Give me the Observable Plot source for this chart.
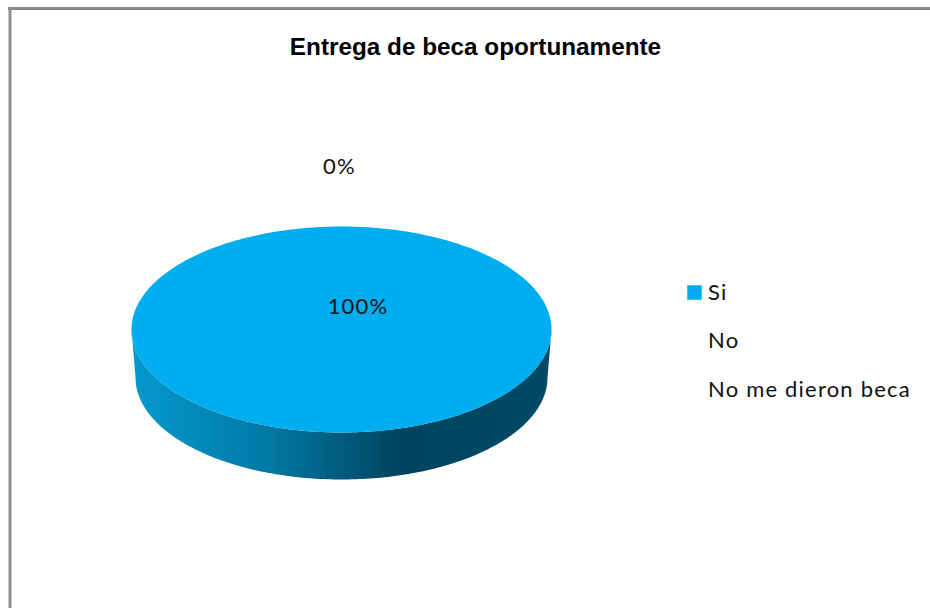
<!DOCTYPE html>
<html lang="es">
<head>
<meta charset="utf-8">
<title>Entrega de beca oportunamente</title>
<script src="https://cdn.jsdelivr.net/npm/d3@7"></script>
<script src="https://cdn.jsdelivr.net/npm/@observablehq/plot@0.6"></script>
<style>
  html, body { margin: 0; padding: 0; background: #fff; overflow: hidden; }
  svg { display: block; }
  .spaced text { letter-spacing: 1.2px; }
</style>
</head>
<body>
<div id="chart"></div>
<script>
// Data
const chartTitle = "Entrega de beca oportunamente";
const categories = ["Si", "No", "No me dieron beca"];
const shares = [100, 0, 0];
const sliceLabels = ["100%", "0%"];
const swatchColors = ["#00AEEF", "none", "none"];

// Layout constants (pixel space of the frame)
const W = 930, H = 608;
const pie = {cx: 341, cy: 329, rx: 210, ry: 103, cyLow: 377, rxLow: 206, ryLow: 102};
const arcStep = Math.PI / 180;

// Slice polygons from the shares
const arcs = d3.pie().sort(null).startAngle(0).endAngle(2 * Math.PI)(shares);
const topPoints = arcs.filter(a => a.value > 0).flatMap((a, i) =>
  d3.range(a.startAngle, a.endAngle + arcStep / 2, arcStep).map(t => ({
    slice: i,
    x: pie.cx + pie.rx * Math.sin(t),
    y: pie.cy - pie.ry * Math.cos(t)
  }))
);

// Front wall of the disc: upper rim, then lower rim in reverse
const sweep = d3.range(0, Math.PI + arcStep / 2, arcStep);
const wall = [
  ...sweep.map(t => ({x: pie.cx + pie.rx * Math.cos(t), y: pie.cy + pie.ry * Math.sin(t)})),
  ...sweep.slice().reverse().map(t => ({x: pie.cx + pie.rxLow * Math.cos(t), y: pie.cyLow + pie.ryLow * Math.sin(t)}))
];

const gradient = () => {
  const defs = d3.create("svg:defs");
  const g = defs.append("linearGradient")
    .attr("id", "wallShade").attr("gradientUnits", "userSpaceOnUse")
    .attr("x1", pie.cx - pie.rx).attr("x2", pie.cx + pie.rx)
    .attr("y1", 0).attr("y2", 0);
  [[0, "#0499CF"], [0.3, "#007CA8"], [0.64, "#00435E"], [1, "#004A66"]].forEach(([o, c]) =>
    g.append("stop").attr("offset", o).attr("stop-color", c));
  return defs.node();
};

const legendRows = categories.map((name, i) => ({
  name,
  color: swatchColors[i],
  y: [292, 340, 389][i]
}));

const frameTop = [{x1: 8, x2: W, y: 8}];
const frameLeft = [{x: 9.5, y1: 7, y2: H}];

const plot = Plot.plot({
  width: W,
  height: H,
  margin: 0,
  x: {domain: [0, W], range: [0, W], axis: null},
  y: {domain: [0, H], range: [0, H], axis: null},
  style: {background: "#fff", overflow: "hidden"},
  marks: [
    gradient,
    Plot.ruleY(frameTop, {x1: "x1", x2: "x2", y: "y", stroke: "#868686", strokeWidth: 3}),
    Plot.ruleX(frameLeft, {x: "x", y1: "y1", y2: "y2", stroke: "#8e8e8e", strokeWidth: 3}),
    Plot.line(wall, {x: "x", y: "y", fill: "url(#wallShade)", stroke: "none", curve: "linear-closed"}),
    Plot.line(topPoints, {x: "x", y: "y", z: "slice", fill: swatchColors[0], stroke: "none", curve: "linear-closed"}),
    Plot.text([chartTitle], {
      x: [475], y: [47], text: d => d, fontFamily: "Liberation Sans", fontWeight: 700,
      fontSize: 24.3, fill: "#000", textAnchor: "middle"
    }),
    Plot.text(sliceLabels, {
      x: [357.5, 339], y: [306, 166], text: d => d, fontFamily: "Lato",
      fontSize: 22, fill: "#111", textAnchor: "middle", className: "spaced"
    }),
    Plot.dot(legendRows, {
      x: () => 694, y: "y", symbol: "square", r: 8.2, fill: "color", stroke: "none"
    }),
    Plot.text(legendRows, {
      x: () => 707.5, y: "y", text: "name", fontFamily: "Lato",
      fontSize: 22, fill: "#111", textAnchor: "start", className: "spaced"
    })
  ]
});
document.getElementById("chart").append(plot);
</script>
</body>
</html>
